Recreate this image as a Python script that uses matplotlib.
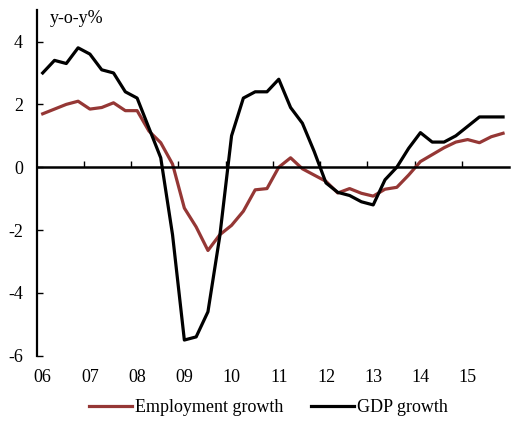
import matplotlib
matplotlib.use('Agg')
import matplotlib.pyplot as plt
import matplotlib.transforms as mtransforms

plt.rcParams['font.family'] = ['Liberation Serif', 'DejaVu Serif']
plt.rcParams['axes.unicode_minus'] = False

# quarterly data, 2006Q1 .. 2015Q4
years = ["06", "07", "08", "09", "10", "11", "12", "13", "14", "15"]

employment = [1.7, 1.85, 2.0, 2.1, 1.85, 1.9, 2.05, 1.8,
              1.8, 1.15, 0.78, 0.1, -1.3, -1.9, -2.65, -2.15,
              -1.85, -1.4, -0.72, -0.68, 0.0, 0.3, -0.05, -0.25,
              -0.45, -0.82, -0.68, -0.83, -0.92, -0.7, -0.64, -0.25,
              0.18, 0.4, 0.62, 0.8, 0.88, 0.78, 0.97, 1.08]

gdp = [3.0, 3.4, 3.3, 3.8, 3.6, 3.1, 3.0, 2.4,
       2.2, 1.25, 0.3, -2.15, -5.5, -5.4, -4.6, -2.2,
       1.0, 2.2, 2.4, 2.4, 2.8, 1.9, 1.4, 0.5,
       -0.5, -0.8, -0.9, -1.1, -1.2, -0.4, 0.0, 0.6,
       1.1, 0.8, 0.8, 1.0, 1.3, 1.6, 1.6, 1.6]

quarters = list(range(len(gdp)))

fig = plt.figure(figsize=(5.11, 4.21), dpi=100)
ax = fig.add_axes([0.072, 0.155, 0.924, 0.821])

ax.plot(quarters, employment, color='#953735', linewidth=2.3, label='Employment growth')
ax.plot(quarters, gdp, color='black', linewidth=2.3, label='GDP growth')

ax.set_xlim(-0.5, 39.5)
ax.set_ylim(-6, 5)

ax.spines['top'].set_visible(False)
ax.spines['right'].set_visible(False)
ax.spines['left'].set_linewidth(1.6)
ax.spines['bottom'].set_position(('data', 0))
ax.spines['bottom'].set_linewidth(1.8)

ax.set_yticks([-6, -4, -2, 0, 2, 4])
ax.tick_params(axis='y', direction='in', length=4, width=1, pad=10, labelsize=13)
ax.set_xticks([3.5 + 4 * k for k in range(9)])
ax.tick_params(axis='x', direction='in', length=4, width=1, labelbottom=False)

# year labels along the bottom, under each Q1
trans = mtransforms.blended_transform_factory(ax.transData, ax.transAxes)
for k, yr in enumerate(years):
    ax.text(4 * k, -0.064, yr, transform=trans, ha='center', va='center', fontsize=13)

ax.text(0.028, 0.977, 'y-o-y%', transform=ax.transAxes, ha='left', va='center', fontsize=13)

fig.legend(loc='center', bbox_to_anchor=(0.525, 0.031), ncol=2, frameon=False,
           fontsize=13, handlelength=2.4, handletextpad=0.15, columnspacing=1.5,
           borderpad=0)

fig.savefig('out.png', dpi=100)
